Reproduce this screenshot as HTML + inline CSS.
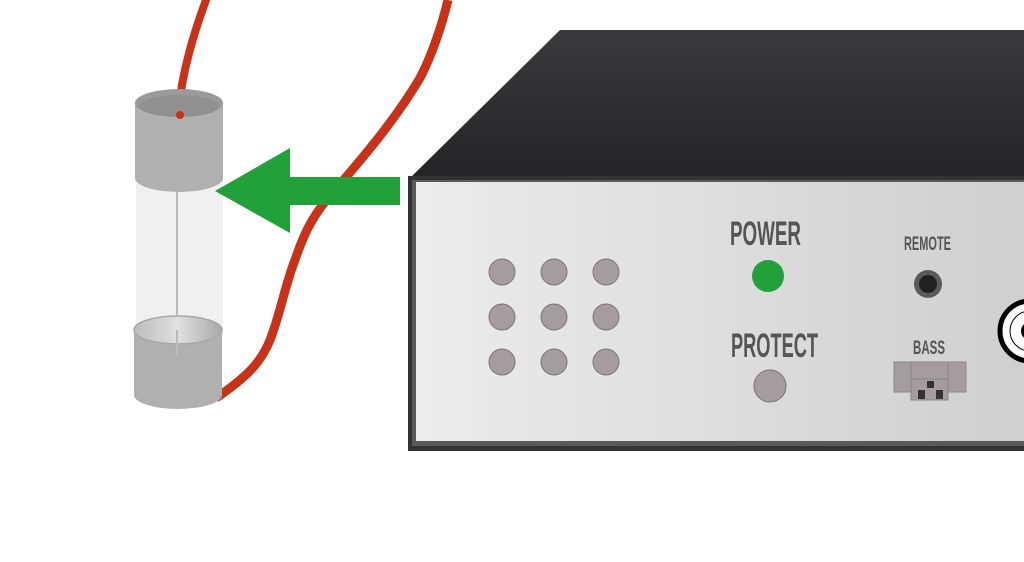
<!DOCTYPE html>
<html><head><meta charset="utf-8"><style>html,body{margin:0;padding:0;background:#fff}svg{display:block}</style></head><body>
<svg width="1024" height="562" viewBox="0 0 1024 562" xmlns="http://www.w3.org/2000/svg">
<defs>
<linearGradient id="top" x1="0" y1="0" x2="0" y2="1"><stop offset="0" stop-color="#3a3a3c"/><stop offset="1" stop-color="#242426"/></linearGradient>
<linearGradient id="front" x1="0" y1="0" x2="1" y2="0"><stop offset="0" stop-color="#ececec"/><stop offset="1" stop-color="#cfcfcf"/></linearGradient>
<linearGradient id="cup" x1="0" y1="0" x2="1" y2="0"><stop offset="0" stop-color="#bdbdbd"/><stop offset="0.5" stop-color="#e0e0e0"/><stop offset="1" stop-color="#a8a8a8"/></linearGradient>
</defs>
<path d="M178,114 C182,70 195,30 206,0" stroke="#c83218" stroke-width="8" fill="none" stroke-linecap="round"/>
<path d="M216,398 C250,375 262,360 270,340 C280,315 285,285 295,260 C305,230 315,212 335,190 C365,155 395,120 420,78 C432,55 442,25 448,0" stroke="#c83218" stroke-width="9" fill="none"/>
<rect x="136" y="175" width="87" height="160" fill="#efefef" opacity="0.95"/>
<line x1="177" y1="180" x2="177" y2="358" stroke="#bbb" stroke-width="2"/>
<path d="M135,103 L135,178 A44,14 0 0 0 223,178 L223,103 Z" fill="#b0b0b0"/>
<ellipse cx="179" cy="103" rx="44" ry="14" fill="#9a9a9a"/>
<ellipse cx="179" cy="106" rx="40" ry="11" fill="#909090"/>
<circle cx="180" cy="115" r="4" fill="#c83218"/>
<path d="M134,330 L134,395 A44,14 0 0 0 222,395 L222,330 Z" fill="#b0b0b0"/>
<ellipse cx="178" cy="330" rx="44" ry="14" fill="url(#cup)" stroke="#a8a8a8" stroke-width="1.5"/>
<line x1="177" y1="330" x2="177" y2="356" stroke="#bbb" stroke-width="2"/>
<polygon points="215,191 290,148 290,177 400,177 400,205 290,205 290,233" fill="#22a03a"/>
<polygon points="408,180 560,30 1024,30 1024,180" fill="url(#top)"/>
<rect x="408" y="176" width="616" height="275" fill="#333"/>
<rect x="412" y="180" width="612" height="266" fill="#5a5a5a"/>
<rect x="416" y="182" width="608" height="259" fill="url(#front)"/>
<g fill="#a59c9f" stroke="#7a7375" stroke-width="1">
<circle cx="502" cy="272" r="13"/><circle cx="554" cy="272" r="13"/><circle cx="606" cy="272" r="13"/>
<circle cx="502" cy="317" r="13"/><circle cx="554" cy="317" r="13"/><circle cx="606" cy="317" r="13"/>
<circle cx="502" cy="362" r="13"/><circle cx="554" cy="362" r="13"/><circle cx="606" cy="362" r="13"/>
</g>
<g font-family="'Liberation Sans',sans-serif" font-weight="bold" fill="#555">
<text x="730" y="245" font-size="34" textLength="71" lengthAdjust="spacingAndGlyphs">POWER</text>
<text x="731" y="357" font-size="34" textLength="87" lengthAdjust="spacingAndGlyphs">PROTECT</text>
<text x="904" y="250" font-size="19" textLength="47" lengthAdjust="spacingAndGlyphs">REMOTE</text>
<text x="913" y="354" font-size="19" textLength="32" lengthAdjust="spacingAndGlyphs">BASS</text>
</g>
<circle cx="768" cy="276" r="16" fill="#22a03a"/>
<circle cx="770" cy="386" r="16" fill="#a59c9f" stroke="#7a7375"/>
<circle cx="928" cy="284" r="14" fill="#5a5a5a"/>
<circle cx="928" cy="284" r="9" fill="#222"/>
<rect x="894" y="362" width="72" height="30" fill="#a59c9f" stroke="#888"/>
<line x1="911" y1="362" x2="911" y2="392" stroke="#888"/>
<line x1="948" y1="362" x2="948" y2="392" stroke="#888"/>
<rect x="911" y="379" width="37" height="21" fill="#a59c9f" stroke="#888"/>
<rect x="927" y="381" width="7" height="7" fill="#333"/>
<rect x="918" y="390" width="7" height="9" fill="#333"/>
<rect x="936" y="390" width="7" height="9" fill="#333"/>
<circle cx="1030" cy="331" r="30" fill="#fff" stroke="#000" stroke-width="5"/>
<circle cx="1030" cy="331" r="20" fill="none" stroke="#000" stroke-width="1"/>
<circle cx="1030" cy="331" r="9" fill="#000"/>
</svg>
</body></html>
